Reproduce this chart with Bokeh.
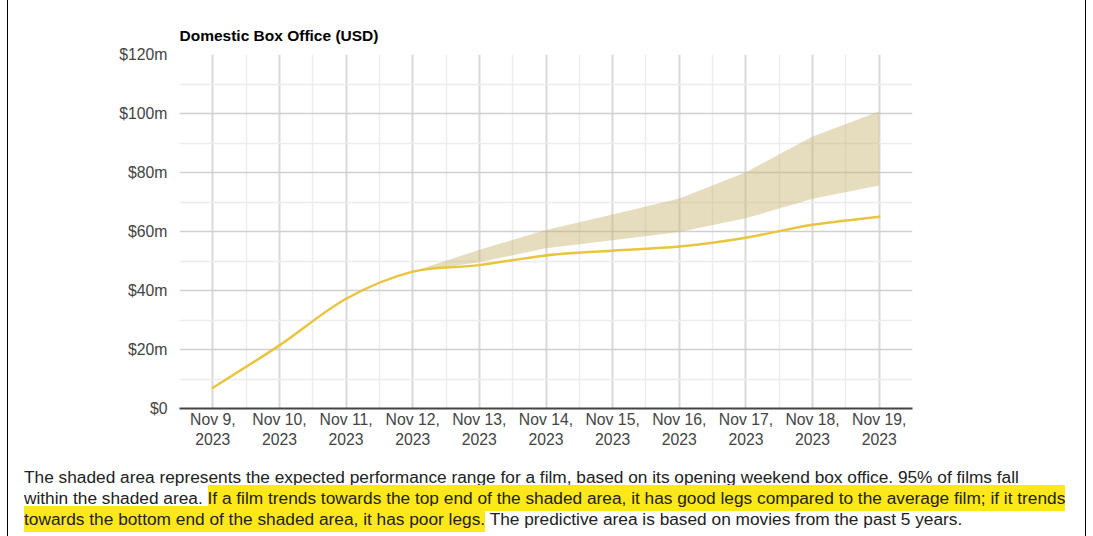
from bokeh.plotting import figure
from bokeh.models import FixedTicker, Div, ColumnDataSource, Range1d
from bokeh.layouts import column, row
from bokeh.embed import file_html
from bokeh.resources import INLINE

# ---- data (USD millions) ----
days = [9, 10, 11, 12, 13, 14, 15, 16, 17, 18, 19]
day_labels = ["Nov 9,\n2023", "Nov 10,\n2023", "Nov 11,\n2023", "Nov 12,\n2023",
              "Nov 13,\n2023", "Nov 14,\n2023", "Nov 15,\n2023", "Nov 16,\n2023",
              "Nov 17,\n2023", "Nov 18,\n2023", "Nov 19,\n2023"]
gross = [7.0, 21.4, 37.2, 46.4, 48.6, 51.9, 53.5, 54.9, 57.9, 62.3, 65.0]

band_days = [12, 13, 14, 15, 16, 17, 18, 19]
band_low = [46.4, 49.6, 54.3, 57.0, 59.8, 64.5, 71.1, 75.6]
band_high = [46.4, 53.8, 60.5, 65.8, 71.2, 80.1, 92.2, 100.7]

y_ticks = [0, 20, 40, 60, 80, 100, 120]
y_labels = ["$0", "$20m", "$40m", "$60m", "$80m", "$100m", "$120m"]
y_minor = [10, 30, 50, 70, 90, 110]
x_minor = [8.5, 9.5, 10.5, 11.5, 12.5, 13.5, 14.5, 15.5, 16.5, 17.5, 18.5, 19.5]

FONT = "Liberation Sans"

p = figure(width=1077, height=467, output_backend="svg", toolbar_location=None,
           x_range=Range1d(8.5, 19.5), y_range=Range1d(0, 120),
           min_border_left=171, min_border_right=173, min_border_top=54,
           min_border_bottom=59, title="Domestic Box Office (USD)", margin=0)
p.outline_line_color = None
p.background_fill_color = "white"
p.border_fill_color = "white"

p.title.text_font = FONT
p.title.text_font_size = "15.5px"
p.title.text_font_style = "bold"
p.title.text_color = "#000000"
p.title.align = "left"
p.title.standoff = 22

xt = FixedTicker(ticks=days, minor_ticks=x_minor)
yt = FixedTicker(ticks=y_ticks, minor_ticks=y_minor)
p.xaxis.ticker = xt
p.yaxis.ticker = yt
p.xgrid.ticker = xt
p.ygrid.ticker = yt
p.xaxis.major_label_overrides = {d: l for d, l in zip(days, day_labels)}
p.yaxis.major_label_overrides = {t: l for t, l in zip(y_ticks, y_labels)}

p.xgrid.grid_line_color = "#d9d9d9"
p.xgrid.grid_line_width = 2
p.xgrid.minor_grid_line_color = "#ececec"
p.xgrid.minor_grid_line_width = 1.5
p.ygrid.grid_line_color = "#d0d0d0"
p.ygrid.grid_line_width = 1.5
p.ygrid.minor_grid_line_color = "#ececec"
p.ygrid.minor_grid_line_width = 1.5

for ax in (p.xaxis[0], p.yaxis[0]):
    ax.major_tick_line_color = None
    ax.minor_tick_line_color = None
    ax.major_tick_out = 0
    ax.major_tick_in = 0
    ax.minor_tick_out = 0
    ax.minor_tick_in = 0
    ax.major_label_text_font = FONT
    ax.major_label_text_font_size = "15.75px"
    ax.major_label_text_color = "#444444"

p.yaxis.axis_line_color = None
p.yaxis.major_label_standoff = 12
p.xaxis.axis_line_color = "#444444"
p.xaxis.axis_line_width = 2
p.xaxis.major_label_standoff = 2

band_src = ColumnDataSource(dict(x=band_days, lo=band_low, hi=band_high))
p.varea(x="x", y1="lo", y2="hi", source=band_src, fill_color="#c5b36e", fill_alpha=0.45)

# smooth (Catmull-Rom) rendering of the gross line through its data points
n = len(days)
x0, y0, x1, y1, cx0, cy0, cx1, cy1 = [], [], [], [], [], [], [], []
for i in range(n - 1):
    xp, yp = days[max(i - 1, 0)], gross[max(i - 1, 0)]
    xa, ya = days[i], gross[i]
    xb, yb = days[i + 1], gross[i + 1]
    xn, yn = days[min(i + 2, n - 1)], gross[min(i + 2, n - 1)]
    x0.append(xa); y0.append(ya); x1.append(xb); y1.append(yb)
    cx0.append(xa + (xb - xp) / 6); cy0.append(ya + (yb - yp) / 6)
    cx1.append(xb - (xn - xa) / 6); cy1.append(yb - (yn - ya) / 6)
curve_src = ColumnDataSource(dict(x0=x0, y0=y0, x1=x1, y1=y1,
                                  cx0=cx0, cy0=cy0, cx1=cx1, cy1=cy1))
p.bezier(x0="x0", y0="y0", x1="x1", y1="y1", cx0="cx0", cy0="cy0",
         cx1="cx1", cy1="cy1", source=curve_src, line_color="#e9c53f",
         line_width=2.5, line_cap="round")

caption = Div(width=1077, height=66, margin=0, text=(
    '<div style="font-family:\'Liberation Sans\',Arial,sans-serif;font-size:17.3px;'
    'line-height:21px;color:#222;padding-left:16px;white-space:nowrap;">'
    'The shaded area represents the expected performance range for a film, based on its '
    'opening weekend box office. 95% of films fall<br>within the shaded area. '
    '<span style="background:#ffe81a;padding:3px 0;">If a film trends towards the top end '
    'of the shaded area, it has good legs compared to the average film; if it trends<br>towards '
    'the bottom end of the shaded area, it has poor legs.</span> The predictive area is based '
    'on movies from the past 5 years.</div>'))

left_border = Div(width=1, height=536, margin=0, styles={"background-color": "#000"})
right_border = Div(width=1, height=536, margin=0, styles={"background-color": "#000"})

layout = row(left_border, column(p, caption, spacing=0, margin=0), right_border,
             spacing=0, margin=(0, 0, 0, 7))

open("out.html", "w").write(file_html(layout, INLINE))
